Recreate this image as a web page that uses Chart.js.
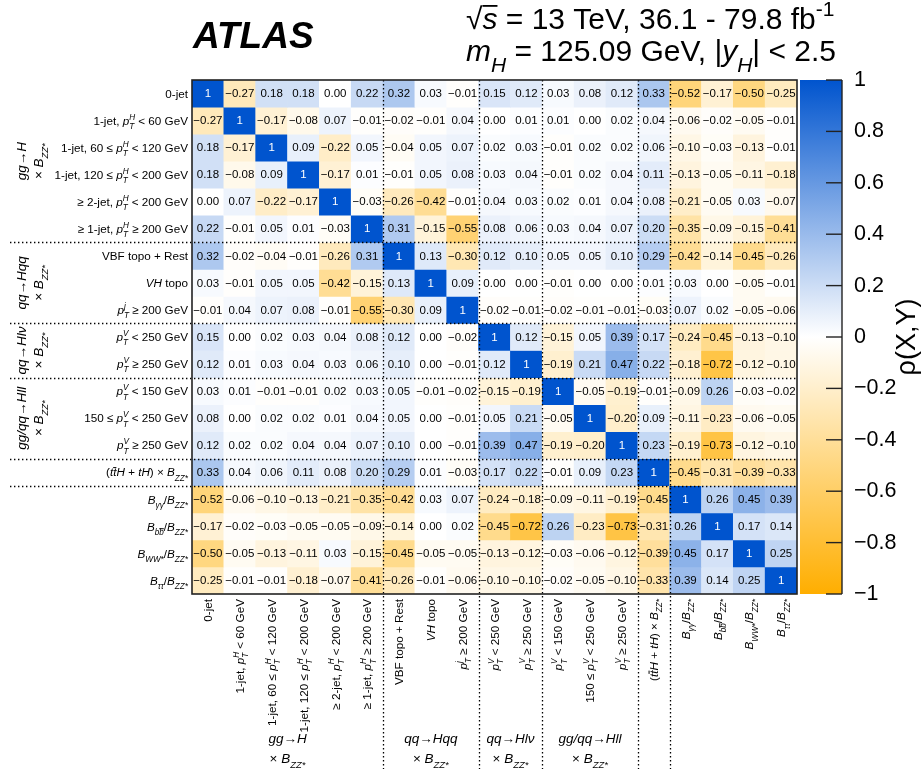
<!DOCTYPE html>
<html>
<head>
<meta charset="UTF-8">
<title>ATLAS correlation matrix</title>
<script src="https://cdn.jsdelivr.net/npm/chart.js"></script>
<style>
  body { margin: 0; background: #fff; }
  #wrap { width: 924px; height: 769px; }
</style>
</head>
<body>
<div id="wrap"><canvas id="corrChart" width="924" height="769"></canvas></div>
<script>
// labels use a tiny markup: $..$ italic, _{..} sub, ^{..} sup, ~{..} overline
const categories = [
  '0-jet',
  '1-jet, $p_{T}^{H}$ < 60 GeV',
  '1-jet, 60 ≤ $p_{T}^{H}$ < 120 GeV',
  '1-jet, 120 ≤ $p_{T}^{H}$ < 200 GeV',
  '≥ 2-jet, $p_{T}^{H}$ < 200 GeV',
  '≥ 1-jet, $p_{T}^{H}$ ≥ 200 GeV',
  'VBF topo + Rest',
  '$VH$ topo',
  '$p_{T}^{j}$ ≥ 200 GeV',
  '$p_{T}^{V}$ < 250 GeV',
  '$p_{T}^{V}$ ≥ 250 GeV',
  '$p_{T}^{V}$ < 150 GeV',
  '150 ≤ $p_{T}^{V}$ < 250 GeV',
  '$p_{T}^{V}$ ≥ 250 GeV',
  '($t~{t}H + tH$) × $B_{ZZ*}$',
  '$B_{γγ}$/$B_{ZZ*}$',
  '$B_{b~{b}}$/$B_{ZZ*}$',
  '$B_{WW*}$/$B_{ZZ*}$',
  '$B_{ττ}$/$B_{ZZ*}$'
];

const groupNames = ['$gg→H$', '$qq→Hqq$', '$qq→Hlν$', '$gg/qq→Hll$'];
const groupSub = '× $B_{ZZ*}$';
const groupSpans = [[0, 5], [6, 8], [9, 10], [11, 13]];
const separators = [5, 8, 10, 13, 14];

const row0  = [1, -0.27, 0.18, 0.18, 0.00, 0.22, 0.32, 0.03, -0.01, 0.15, 0.12, 0.03, 0.08, 0.12, 0.33, -0.52, -0.17, -0.50, -0.25];
const row1  = [-0.27, 1, -0.17, -0.08, 0.07, -0.01, -0.02, -0.01, 0.04, 0.00, 0.01, 0.01, 0.00, 0.02, 0.04, -0.06, -0.02, -0.05, -0.01];
const row2  = [0.18, -0.17, 1, 0.09, -0.22, 0.05, -0.04, 0.05, 0.07, 0.02, 0.03, -0.01, 0.02, 0.02, 0.06, -0.10, -0.03, -0.13, -0.01];
const row3  = [0.18, -0.08, 0.09, 1, -0.17, 0.01, -0.01, 0.05, 0.08, 0.03, 0.04, -0.01, 0.02, 0.04, 0.11, -0.13, -0.05, -0.11, -0.18];
const row4  = [0.00, 0.07, -0.22, -0.17, 1, -0.03, -0.26, -0.42, -0.01, 0.04, 0.03, 0.02, 0.01, 0.04, 0.08, -0.21, -0.05, 0.03, -0.07];
const row5  = [0.22, -0.01, 0.05, 0.01, -0.03, 1, 0.31, -0.15, -0.55, 0.08, 0.06, 0.03, 0.04, 0.07, 0.20, -0.35, -0.09, -0.15, -0.41];
const row6  = [0.32, -0.02, -0.04, -0.01, -0.26, 0.31, 1, 0.13, -0.30, 0.12, 0.10, 0.05, 0.05, 0.10, 0.29, -0.42, -0.14, -0.45, -0.26];
const row7  = [0.03, -0.01, 0.05, 0.05, -0.42, -0.15, 0.13, 1, 0.09, 0.00, 0.00, -0.01, 0.00, 0.00, 0.01, 0.03, 0.00, -0.05, -0.01];
const row8  = [-0.01, 0.04, 0.07, 0.08, -0.01, -0.55, -0.30, 0.09, 1, -0.02, -0.01, -0.02, -0.01, -0.01, -0.03, 0.07, 0.02, -0.05, -0.06];
const row9  = [0.15, 0.00, 0.02, 0.03, 0.04, 0.08, 0.12, 0.00, -0.02, 1, 0.12, -0.15, 0.05, 0.39, 0.17, -0.24, -0.45, -0.13, -0.10];
const row10 = [0.12, 0.01, 0.03, 0.04, 0.03, 0.06, 0.10, 0.00, -0.01, 0.12, 1, -0.19, 0.21, 0.47, 0.22, -0.18, -0.72, -0.12, -0.10];
const row11 = [0.03, 0.01, -0.01, -0.01, 0.02, 0.03, 0.05, -0.01, -0.02, -0.15, -0.19, 1, -0.05, -0.19, -0.01, -0.09, 0.26, -0.03, -0.02];
const row12 = [0.08, 0.00, 0.02, 0.02, 0.01, 0.04, 0.05, 0.00, -0.01, 0.05, 0.21, -0.05, 1, -0.20, 0.09, -0.11, -0.23, -0.06, -0.05];
const row13 = [0.12, 0.02, 0.02, 0.04, 0.04, 0.07, 0.10, 0.00, -0.01, 0.39, 0.47, -0.19, -0.20, 1, 0.23, -0.19, -0.73, -0.12, -0.10];
const row14 = [0.33, 0.04, 0.06, 0.11, 0.08, 0.20, 0.29, 0.01, -0.03, 0.17, 0.22, -0.01, 0.09, 0.23, 1, -0.45, -0.31, -0.39, -0.33];
const row15 = [-0.52, -0.06, -0.10, -0.13, -0.21, -0.35, -0.42, 0.03, 0.07, -0.24, -0.18, -0.09, -0.11, -0.19, -0.45, 1, 0.26, 0.45, 0.39];
const row16 = [-0.17, -0.02, -0.03, -0.05, -0.05, -0.09, -0.14, 0.00, 0.02, -0.45, -0.72, 0.26, -0.23, -0.73, -0.31, 0.26, 1, 0.17, 0.14];
const row17 = [-0.50, -0.05, -0.13, -0.11, 0.03, -0.15, -0.45, -0.05, -0.05, -0.13, -0.12, -0.03, -0.06, -0.12, -0.39, 0.45, 0.17, 1, 0.25];
const row18 = [-0.25, -0.01, -0.01, -0.18, -0.07, -0.41, -0.26, -0.01, -0.06, -0.10, -0.10, -0.02, -0.05, -0.10, -0.33, 0.39, 0.14, 0.25, 1];
const rows = [row0, row1, row2, row3, row4, row5, row6, row7, row8, row9,
              row10, row11, row12, row13, row14, row15, row16, row17, row18];

const cbTicks = [-1, -0.8, -0.6, -0.4, -0.2, 0, 0.2, 0.4, 0.6, 0.8, 1];
const cbTickLabels = ['−1', '−0.8', '−0.6', '−0.4', '−0.2', '0', '0.2', '0.4', '0.6', '0.8', '1'];
const zTitle = 'ρ(X,Y)';
const atlasLabel = 'ATLAS';
const infoLines = ['√~{$s$} = 13 TeV, 36.1 - 79.8 fb^{-1}', '$m_{H}$ = 125.09 GeV, |$y_{H}$| < 2.5'];

const FONT = '"Liberation Sans", Arial, Helvetica, sans-serif';
const BLUE = [0, 84, 206];
const ORANGE = [255, 174, 0];

function cellColor(v) {
  const end = v >= 0 ? BLUE : ORANGE;
  const t = Math.min(1, Math.abs(v));
  const c = end.map(e => Math.round(255 + (e - 255) * t));
  return 'rgb(' + c.join(',') + ')';
}

function fmt(v, diag) {
  if (diag) return '1';
  return v.toFixed(2).replace('-', '−');
}

function plain(s) {
  return s.replace(/[_^~](?=\{)/g, '').replace(/[\$\{\}]/g, '');
}

// --- rich text helpers ---
function parseRich(s) {
  const segs = [];
  const open = [];
  let it = false, pos = 0, over = false, buf = '', stackNext = false;
  let closedAt = -1, closedPos = 0;
  const flush = () => {
    if (buf) { segs.push({ t: buf, it, pos, over, stack: stackNext }); buf = ''; stackNext = false; }
  };
  for (let k = 0; k < s.length; k++) {
    const c = s[k];
    if (c === '$') { flush(); it = !it; continue; }
    if ((c === '_' || c === '^' || c === '~') && s[k + 1] === '{') {
      const adjacent = closedAt === k && closedPos !== 0;
      flush();
      if (c === '~') { open.push('o'); over = true; }
      else { open.push('p'); pos = c === '_' ? -1 : 1; stackNext = adjacent; }
      k++;
      continue;
    }
    if (c === '}' && open.length) {
      flush();
      const t = open.pop();
      if (t === 'o') over = false;
      else { closedPos = pos; pos = 0; closedAt = k + 1; }
      continue;
    }
    buf += c;
  }
  flush();
  return segs;
}

function segSize(g, size) { return g.pos ? size * 0.7 : size; }
function segFont(g, size) {
  return (g.it ? 'italic ' : '') + segSize(g, size) + 'px ' + FONT;
}

function drawRich(ctx, s, x, y, size, align, color) {
  const segs = parseRich(s);
  let cx = 0, prevW = 0;
  segs.forEach(g => {
    ctx.font = segFont(g, size);
    const w = ctx.measureText(g.t).width;
    if (g.stack) { g.x = cx - prevW; cx = g.x + Math.max(prevW, w); }
    else { g.x = cx; cx += w; }
    g.w = w; prevW = w;
  });
  const x0 = align === 'right' ? x - cx : align === 'center' ? x - cx / 2 : x;
  ctx.fillStyle = color || '#000';
  ctx.textAlign = 'left';
  ctx.textBaseline = 'alphabetic';
  segs.forEach(g => {
    ctx.font = segFont(g, size);
    const dy = g.pos === -1 ? size * 0.36 : g.pos === 1 ? -size * 0.44 : 0;
    ctx.fillText(g.t, x0 + g.x, y + dy);
    if (g.over) {
      const sz = segSize(g, size);
      ctx.fillRect(x0 + g.x, y + dy - sz * 0.8, g.w, Math.max(1, sz * 0.06));
    }
  });
}

function line(ctx, x1, y1, x2, y2) {
  ctx.beginPath(); ctx.moveTo(x1, y1); ctx.lineTo(x2, y2); ctx.stroke();
}

const decorPlugin = {
  id: 'matrixDecor',
  afterDraw(chart) {
    const { ctx, chartArea: a, scales } = chart;
    const xs = scales.x, ys = scales.y, cb = scales.cb;
    const n = categories.length;
    const cw = (a.right - a.left) / n;
    ctx.save();

    // cell values
    ctx.textAlign = 'center';
    ctx.textBaseline = 'middle';
    ctx.font = '11.5px ' + FONT;
    rows.forEach((row, i) => row.forEach((v, j) => {
      ctx.fillStyle = i === j ? '#fff' : '#000';
      ctx.fillText(fmt(v, i === j), xs.getPixelForValue(j), ys.getPixelForValue(i + 0.5) + 0.5);
    }));

    // dotted separators
    ctx.strokeStyle = '#000';
    ctx.lineWidth = 1.3;
    ctx.setLineDash([1.4, 2.6]);
    separators.forEach(k => {
      const x = Math.round(xs.getPixelForValue(k) + cw / 2) + 0.5;
      const y = Math.round(ys.getPixelForValue(k + 1)) + 0.5;
      line(ctx, 10, y, a.right, y);
      line(ctx, x, a.top, x, chart.height);
    });
    ctx.setLineDash([]);

    // frame
    ctx.lineWidth = 1.6;
    ctx.strokeStyle = '#222';
    ctx.strokeRect(a.left, a.top, a.right - a.left, a.bottom - a.top);

    // row labels (left) and column labels (bottom)
    const ls = 11.7;
    categories.forEach((c, i) => {
      drawRich(ctx, c, a.left - 4, ys.getPixelForValue(i + 0.5) + ls * 0.36, ls, 'right');
      ctx.save();
      ctx.translate(xs.getPixelForValue(i), a.bottom + 5);
      ctx.rotate(-Math.PI / 2);
      drawRich(ctx, c, 0, ls * 0.36, ls, 'right');
      ctx.restore();
    });

    // group labels
    const gs = 13.5;
    groupNames.forEach((g, k) => {
      const [f, t] = groupSpans[k];
      const yc = (ys.getPixelForValue(f) + ys.getPixelForValue(t + 1)) / 2;
      ctx.save();
      ctx.translate(0, yc);
      ctx.rotate(-Math.PI / 2);
      drawRich(ctx, g, 0, 26, gs, 'center');
      drawRich(ctx, groupSub, 0, 43, gs, 'center');
      ctx.restore();
      const xc = (xs.getPixelForValue(f) + xs.getPixelForValue(t)) / 2;
      drawRich(ctx, g, xc, 743, gs, 'center');
      drawRich(ctx, groupSub, xc, 763, gs, 'center');
    });

    // colour bar
    const top = cb.getPixelForValue(1), bot = cb.getPixelForValue(-1);
    const bx = a.right + 3, bw = 42;
    const grad = ctx.createLinearGradient(0, top, 0, bot);
    grad.addColorStop(0, cellColor(1));
    grad.addColorStop(0.5, '#fff');
    grad.addColorStop(1, cellColor(-1));
    ctx.fillStyle = grad;
    ctx.fillRect(bx, top, bw, bot - top);
    ctx.strokeStyle = '#222';
    ctx.lineWidth = 1.4;
    line(ctx, bx + bw, top, bx + bw, bot);
    cbTicks.forEach(v => {
      const y = cb.getPixelForValue(v);
      line(ctx, bx + bw - 16, y, bx + bw, y);
    });

    // colour bar title
    ctx.save();
    ctx.translate(908, (top + bot) / 2);
    ctx.rotate(-Math.PI / 2);
    ctx.fillStyle = '#000';
    ctx.font = '27px ' + FONT;
    ctx.textAlign = 'center';
    ctx.textBaseline = 'middle';
    ctx.fillText(zTitle, 0, 0);
    ctx.restore();

    // header
    ctx.fillStyle = '#000';
    ctx.font = 'italic bold 37px ' + FONT;
    ctx.textAlign = 'left';
    ctx.textBaseline = 'alphabetic';
    ctx.fillText(atlasLabel, 193, 48);
    drawRich(ctx, infoLines[0], 466, 29, 30, 'left');
    drawRich(ctx, infoLines[1], 466, 61, 30, 'left');

    ctx.restore();
  }
};

const datasets = rows.map((row, i) => ({
  label: plain(categories[i]),
  data: row.map(() => [i, i + 1]),
  backgroundColor: row.map(cellColor),
  borderWidth: 0,
  grouped: false,
  barPercentage: 1,
  categoryPercentage: 1
}));

new Chart(document.getElementById('corrChart').getContext('2d'), {
  type: 'bar',
  data: { labels: categories.map(plain), datasets: datasets },
  options: {
    responsive: false,
    animation: false,
    events: [],
    layout: { padding: { top: 80, left: 0, right: 0, bottom: 0 } },
    plugins: { legend: { display: false }, tooltip: { enabled: false } },
    scales: {
      x: {
        type: 'category',
        position: 'bottom',
        grid: { display: false },
        border: { display: false },
        ticks: { display: false },
        afterFit: s => { s.height = 175; }
      },
      y: {
        type: 'linear',
        position: 'left',
        reverse: true,
        min: 0,
        max: rows.length,
        grid: { display: false },
        border: { display: false },
        ticks: { display: false },
        afterFit: s => { s.width = 192; }
      },
      cb: {
        type: 'linear',
        position: 'right',
        min: -1,
        max: 1,
        grid: { display: false },
        border: { display: false },
        ticks: {
          stepSize: 0.2,
          padding: 49,
          color: '#000',
          font: { size: 21.5, family: FONT },
          callback: v => {
            const k = cbTicks.findIndex(t => Math.abs(t - v) < 1e-6);
            return k >= 0 ? cbTickLabels[k] : '';
          }
        },
        afterFit: s => { s.width = 127; }
      }
    }
  },
  plugins: [decorPlugin]
});
</script>
</body>
</html>
